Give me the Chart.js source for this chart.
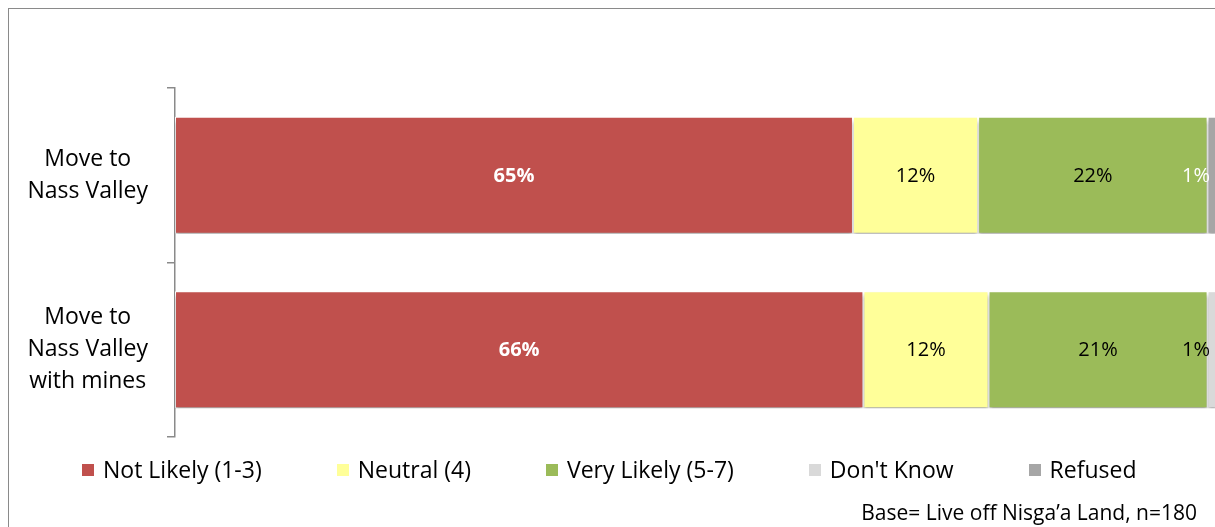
<!DOCTYPE html>
<html>
<head>
<meta charset="utf-8">
<script src="https://cdn.jsdelivr.net/npm/chart.js@4.4.1/dist/chart.umd.min.js"></script>
<style>
  html, body { margin: 0; padding: 0; background: #fff; overflow: hidden; }
  #wrap { position: relative; width: 1215px; height: 527px; overflow: hidden; font-family: 'Open Sans', 'Noto Sans', sans-serif; }
  #frame { position: absolute; left: 8px; top: 8px; width: 1300px; height: 600px; border: 1.5px solid #8a8a8a; box-sizing: border-box; }
  #cv { position: absolute; left: 0; top: 0; }
  #legend { position: absolute; left: 82px; top: 454px; display: flex; align-items: center; font-size: 23px; line-height: 31px; color: #000; }
  #legend .item { display: flex; align-items: center; margin-right: 75px; white-space: nowrap; }
  #legend .box { width: 12px; height: 12px; margin-right: 9px; }
  #note { position: absolute; right: 18px; top: 498px; font-size: 21px; line-height: 29px; color: #000; }
</style>
</head>
<body>
<div id="wrap">
  <div id="frame"></div>
  <canvas id="cv" width="1230" height="527"></canvas>
  <div id="legend"></div>
  <div id="note">Base= Live off Nisga’a Land, n=180</div>
</div>
<script>
const categories = [['Move to', 'Nass Valley'], ['Move to', 'Nass Valley', 'with mines']];
const seriesNames = ['Not Likely (1-3)', 'Neutral (4)', 'Very Likely (5-7)', "Don't Know", 'Refused'];
const notLikely = [65, 66];
const neutral = [12, 12];
const veryLikely = [22, 21];
const dontKnow = [0, 1];
const refused = [1, 0];

const colors = ['#C0504D', '#FFFF99', '#9BBB59', '#D9D9D9', '#A6A6A6'];
const labelColors = ['#fff', '#000', '#000', '#000', '#fff'];
const labelWeights = ['bold', 'normal', 'normal', 'normal', 'normal'];
const values = [notLikely, neutral, veryLikely, dontKnow, refused];

// shadow under the bars
const barShadow = {
  id: 'barShadow',
  beforeDatasetsDraw(chart) {
    const c = chart.ctx;
    c.save();
    c.shadowColor = 'rgba(0,0,0,0.35)';
    c.shadowBlur = 4;
    c.shadowOffsetY = 4;
  },
  afterDatasetsDraw(chart) {
    chart.ctx.restore();
  }
};

// value labels inside each segment
const segLabels = {
  id: 'segLabels',
  afterDatasetsDraw(chart) {
    const c = chart.ctx;
    const area = chart.chartArea;
    c.save();
    c.textBaseline = 'middle';
    c.textAlign = 'center';
    chart.data.datasets.forEach((ds, i) => {
      const meta = chart.getDatasetMeta(i);
      meta.data.forEach((bar, j) => {
        const v = ds.data[j];
        if (!v) return;
        const txt = v + '%';
        c.font = labelWeights[i] + ' 20px "Open Sans", sans-serif';
        const w = c.measureText(txt).width;
        let x = (bar.x + bar.base) / 2;
        // keep the text inside the plot area
        if (x + w / 2 > area.right - 8) x = area.right - 8 - w / 2;
        c.fillStyle = labelColors[i];
        c.fillText(txt, x, bar.y + 1);
      });
    });
    c.restore();
  }
};

const chart = new Chart(document.getElementById('cv'), {
  type: 'bar',
  data: {
    labels: categories,
    datasets: seriesNames.map((name, i) => ({
      label: name,
      data: values[i],
      backgroundColor: colors[i],
      borderColor: '#fff',
      borderWidth: 1,
      borderSkipped: false,
      barPercentage: 0.67,
      categoryPercentage: 1
    }))
  },
  options: {
    indexAxis: 'y',
    responsive: false,
    animation: false,
    layout: { padding: { top: 88, bottom: 90, left: 0, right: 12 } },
    scales: {
      x: {
        stacked: true,
        min: 0,
        max: 100,
        display: false
      },
      y: {
        stacked: true,
        afterFit(scale) { scale.width = 175; },
        grid: {
          offset: true,
          drawOnChartArea: false,
          drawTicks: true,
          tickLength: 8,
          color: '#8a8a8a',
          lineWidth: 1.5
        },
        border: { display: true, color: '#8a8a8a', width: 1.5 },
        ticks: {
          crossAlign: 'center',
          padding: 19,
          color: '#000',
          font: { family: '"Open Sans", sans-serif', size: 23, lineHeight: 1.4 }
        }
      }
    },
    plugins: {
      legend: { display: false },
      tooltip: { enabled: false }
    }
  },
  plugins: [barShadow, segLabels]
});

// legend built from the datasets
const legendEl = document.getElementById('legend');
chart.data.datasets.forEach(ds => {
  const item = document.createElement('div');
  item.className = 'item';
  const box = document.createElement('span');
  box.className = 'box';
  box.style.background = ds.backgroundColor;
  item.appendChild(box);
  item.appendChild(document.createTextNode(ds.label));
  legendEl.appendChild(item);
});
</script>
</body>
</html>
